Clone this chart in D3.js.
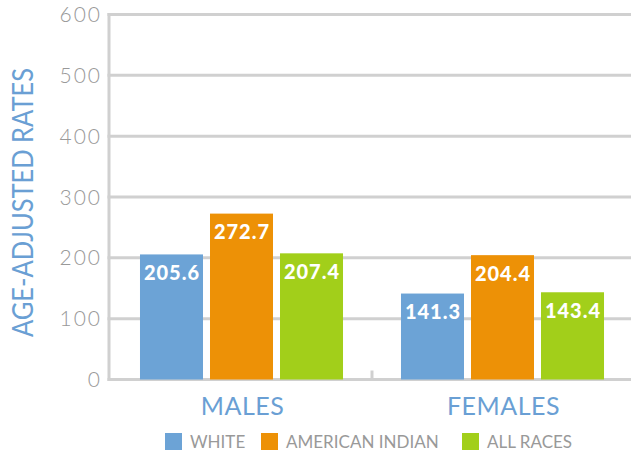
<!DOCTYPE html>
<meta charset="utf-8">
<style>
    html, body {
        margin: 0;
        background: #fff;
    }

    .grid line {
        stroke: #d0d0d0;
        stroke-width: 3px;
    }

    .tick-label {
        font-family: Lato, sans-serif;
        font-weight: 300;
        font-size: 21px;
        letter-spacing: 2px;
        fill: #999;
    }

    .value-label {
        font-family: Lato, sans-serif;
        font-weight: 900;
        font-size: 20px;
        letter-spacing: 1px;
        fill: #fff;
    }

    .cat-label, .axis-title {
        font-family: Lato, sans-serif;
        fill: #6a9fd4;
    }

    .legend text {
        font-family: Lato, sans-serif;
        font-size: 17px;
        fill: #999;
    }
</style>
<div id="container"></div>
<script src="https://d3js.org/d3.v7.min.js"></script>
<script>
    // chart data
    var categories = ["MALES", "FEMALES"];
    var series = ["WHITE", "AMERICAN INDIAN", "ALL RACES"];
    var colors = ["#6ca3d6", "#ed9106", "#a2cf1a"];
    var values = [
        [205.6, 272.7, 207.4],   // males
        [141.3, 204.4, 143.4]    // females
    ];
    var yTicks = [0, 100, 200, 300, 400, 500, 600];

    var width = 631, height = 453;
    var plotLeft = 109, plotRight = 631, plotTop = 14.5, plotBottom = 379.5;

    var svg = d3.select("div#container")
        .append("svg")
        .attr("width", width)
        .attr("height", height);

    // scales
    var y = d3.scaleLinear().domain([0, 600]).range([plotBottom, plotTop]);
    var x0 = d3.scaleBand().domain(categories).range([plotLeft, plotRight]).padding(0);
    var x1 = d3.scaleBand().domain(series).range([2, x0.bandwidth() + 2])
        .paddingInner(0.1).paddingOuter(0.414);
    var color = d3.scaleOrdinal().domain(series).range(colors);

    // gridlines
    var grid = svg.append("g").attr("class", "grid");
    grid.selectAll("line.h")
        .data(yTicks)
        .enter().append("line")
        .attr("class", "h")
        .attr("x1", plotLeft - 1.5)
        .attr("x2", plotRight)
        .attr("y1", function(d) { return y(d); })
        .attr("y2", function(d) { return y(d); });
    grid.append("line")
        .attr("x1", plotLeft).attr("x2", plotLeft)
        .attr("y1", y(600) - 1.5).attr("y2", y(0) + 1.5);
    // small divider tick between the groups
    grid.append("line")
        .attr("x1", x0("FEMALES") + 2).attr("x2", x0("FEMALES") + 2)
        .attr("y1", y(0) - 9).attr("y2", y(0));

    // y tick labels
    svg.append("g").selectAll("text")
        .data(yTicks)
        .enter().append("text")
        .attr("class", "tick-label")
        .attr("x", plotLeft - 7)
        .attr("y", function(d) { return y(d) + 7.5; })
        .attr("text-anchor", "end")
        .text(function(d) { return d; });

    // y axis title
    svg.append("text")
        .attr("class", "axis-title")
        .attr("transform", "translate(33,202.5) rotate(-90)")
        .attr("text-anchor", "middle")
        .attr("textLength", 269)
        .attr("lengthAdjust", "spacingAndGlyphs")
        .style("font-size", "29px")
        .text("AGE-ADJUSTED RATES");

    // bars
    var groups = svg.append("g").selectAll("g")
        .data(categories)
        .enter().append("g")
        .attr("transform", function(d) { return "translate(" + x0(d) + ",0)"; });

    var cells = groups.selectAll("g")
        .data(function(d, i) {
            return series.map(function(s, j) { return { series: s, value: values[i][j] }; });
        })
        .enter().append("g");

    cells.append("rect")
        .attr("x", function(d) { return x1(d.series); })
        .attr("width", x1.bandwidth())
        .attr("y", function(d) { return y(d.value); })
        .attr("height", function(d) { return y(0) - y(d.value); })
        .attr("fill", function(d) { return color(d.series); });

    cells.append("text")
        .attr("class", "value-label")
        .attr("x", function(d) { return x1(d.series) + x1.bandwidth() / 2 + 0.5; })
        .attr("y", function(d) { return y(d.value) + 25.5; })
        .attr("text-anchor", "middle")
        .text(function(d) { return d.value.toFixed(1); });

    // category labels
    groups.append("text")
        .attr("class", "cat-label")
        .attr("x", function(d) { return x1(series[1]) + x1.bandwidth() / 2 + 1; })
        .attr("y", 415)
        .attr("text-anchor", "middle")
        .style("font-size", "25px")
        .style("letter-spacing", "0.5px")
        .text(function(d) { return d; });

    // legend
    var legendX = [165, 261, 462];
    var legend = svg.append("g").attr("class", "legend");
    var item = legend.selectAll("g")
        .data(series)
        .enter().append("g")
        .attr("transform", function(d, i) { return "translate(" + legendX[i] + ",433)"; });
    item.append("rect")
        .attr("width", 17)
        .attr("height", 17)
        .attr("fill", function(d) { return color(d); });
    item.append("text")
        .attr("x", 25)
        .attr("y", 15)
        .text(function(d) { return d; });
</script>
